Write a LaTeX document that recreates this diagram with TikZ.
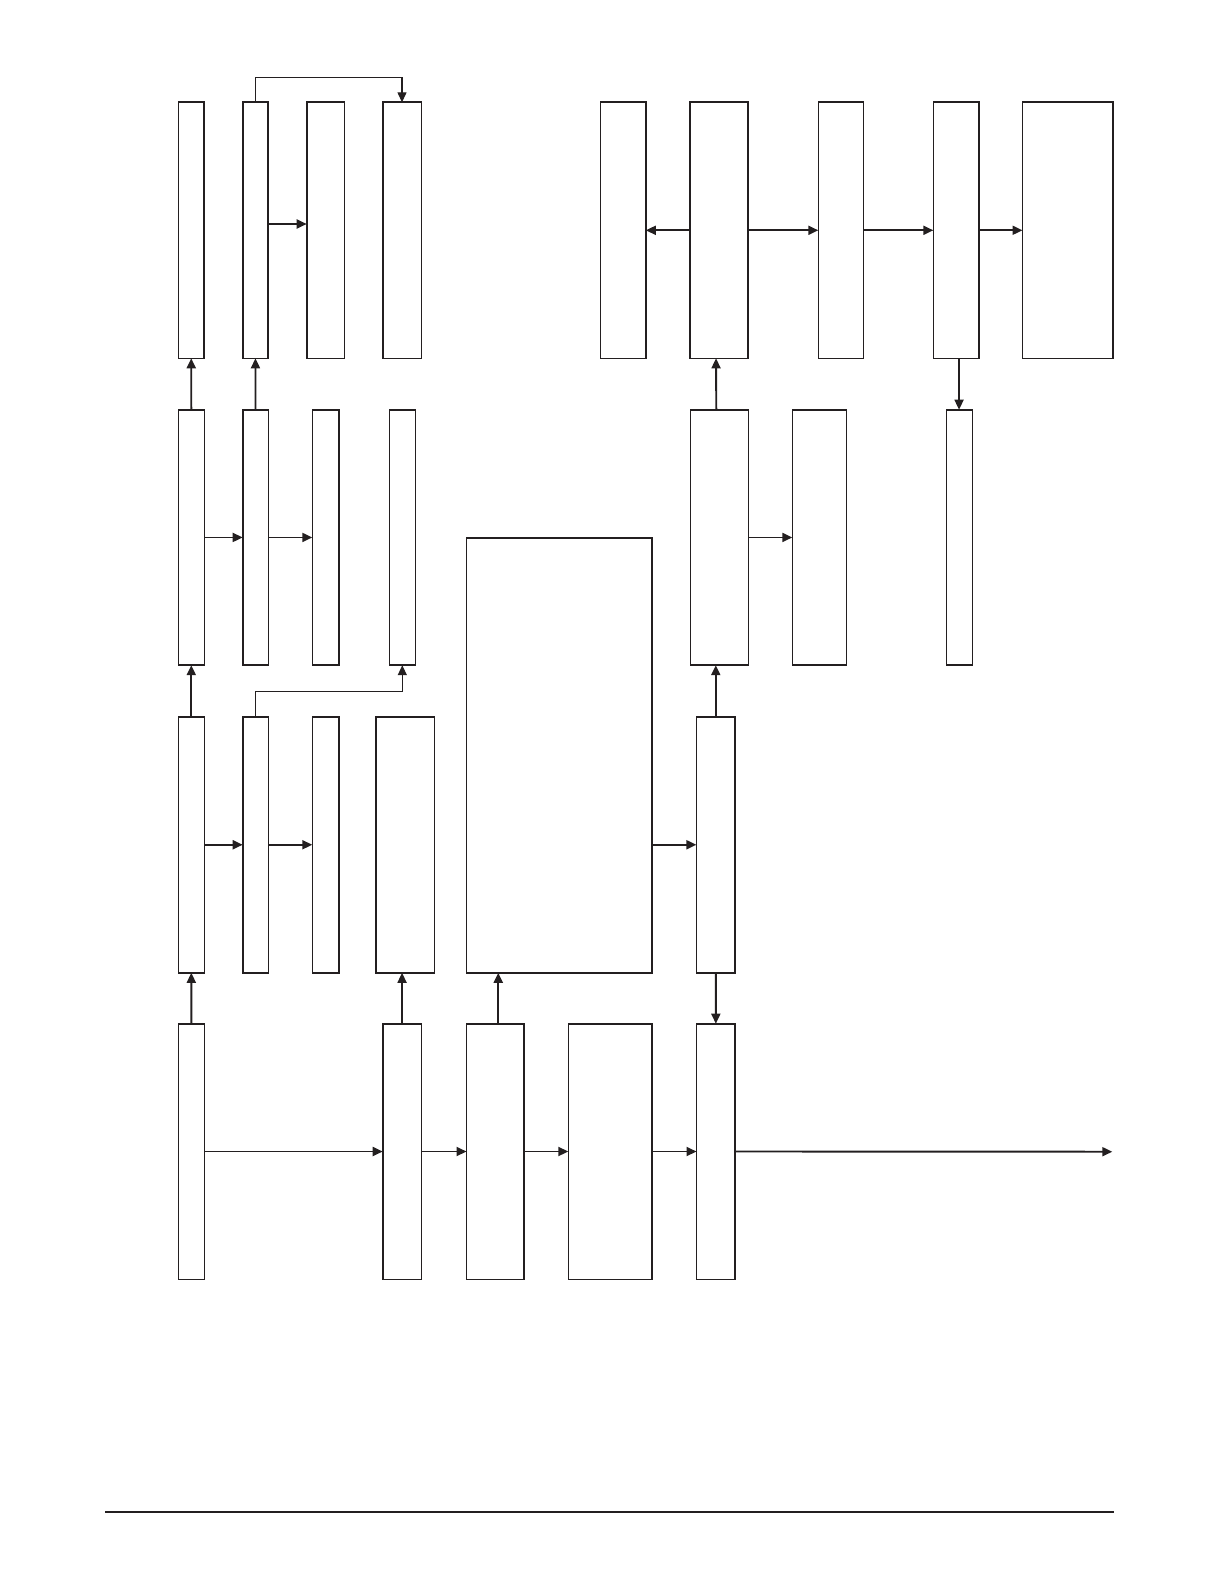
\documentclass[tikz,border=0pt]{standalone}
\usetikzlibrary{arrows.meta}
\definecolor{ink}{RGB}{35,31,32}
\begin{document}
\begin{tikzpicture}[x=1pt,y=-1pt,
  box/.style={draw=ink,line width=1.6pt,fill=white,inner sep=0pt,outer sep=0pt,anchor=north west},
  arr/.style={draw=ink,line width=1.9pt,-{Triangle[length=10pt,width=9pt]}},
  thinarr/.style={draw=ink,line width=1.3pt,-{Triangle[length=10pt,width=9pt]}},
  rulebar/.style={draw=ink,line width=2.3pt}]
\useasboundingbox (0,0) rectangle (1224,1584);
% helper: \bx{name}{x1}{y1}{x2}{y2}
\newcommand{\bx}[5]{\node[box,minimum width={(#4-#2)*1pt},minimum height={(#5-#3)*1pt}] (#1) at (#2,#3) {};}
% Row 1
\bx{A1}{178.3}{102.3}{204.2}{358.3}
\bx{A2}{242.7}{102.3}{268.2}{358.3}
\bx{A3}{306.7}{102.3}{344.3}{358.3}
\bx{A4}{382.7}{102.3}{421.3}{358.3}
\bx{B1}{600.3}{102.3}{645.8}{358.3}
\bx{B2}{690.0}{102.3}{748.0}{358.3}
\bx{B3}{818.3}{102.3}{863.4}{358.3}
\bx{B4}{933.3}{102.3}{978.8}{358.3}
\bx{B5}{1022.5}{102.3}{1112.7}{358.3}
% Row 2
\bx{C1}{178.3}{409.7}{204.3}{665.2}
\bx{C2}{242.7}{409.7}{268.3}{665.2}
\bx{C3}{312.3}{409.7}{338.7}{665.2}
\bx{C4}{389.3}{409.7}{415.3}{665.2}
\bx{R1}{690.3}{409.7}{748.3}{665.2}
\bx{R2}{792.3}{409.7}{846.3}{665.2}
\bx{R3}{946.3}{409.7}{972.3}{665.2}
% Row 3
\bx{D1}{178.3}{716.7}{204.3}{972.8}
\bx{D2}{242.7}{716.7}{268.3}{972.8}
\bx{D3}{312.3}{716.7}{338.7}{972.8}
\bx{D4}{376.2}{716.7}{434.4}{972.8}
\bx{E}{466.3}{537.7}{652.0}{972.8}
\bx{D5}{696.4}{716.7}{735.2}{972.8}
% Row 4
\bx{F1}{178.4}{1023.7}{204.4}{1279.3}
\bx{F2}{382.7}{1023.7}{421.4}{1279.3}
\bx{F3}{466.5}{1023.7}{524.0}{1279.3}
\bx{F4}{568.3}{1023.7}{651.8}{1279.3}
\bx{F5}{696.5}{1023.7}{735.2}{1279.3}
\coordinate (out) at (1112.3,1151.7);
\coordinate (rl) at (105,1511.7);
\coordinate (rr) at (1113.5,1511.7);
% Row 1 connectors
\draw[arr] ([yshift=6.3pt]A2.east) -- ([yshift=6.3pt]A2.east -| A3.west);
\draw[thinarr] (A2.north) -- ++(0,-25) -| (A4.north);
\draw[arr] (B2.west) -- (B1.east);
\draw[arr] (B2.east) -- (B3.west);
\draw[arr] (B3.east) -- (B4.west);
\draw[arr] (B4.east) -- (B5.west);
% Row 2 connectors
\draw[arr] (C1.east) -- (C2.west);
\draw[arr] (C2.east) -- (C3.west);
\draw[arr] (R1.east) -- (R2.west);
\draw[arr] (C1.north) -- (A1.south);
\draw[arr] (C2.north) -- (A2.south);
\draw[arr] ([xshift=-3pt]R1.north) -- ([xshift=-3pt]B2.south);
\draw[arr] ([xshift=3pt]B4.south) -- ([xshift=3pt]B4.south |- R3.north);
% Row 3 connectors
\draw[arr] (D1.east) -- (D2.west);
\draw[arr] (D2.east) -- (D3.west);
\draw[arr] (D1.north) -- (C1.south);
\draw[thinarr] (D2.north) -- ++(0,-25.4) -| (C4.south);
\draw[arr] (E.east |- D5.west) -- (D5.west);
\draw[arr] (D5.north) -- (D5.north |- R1.south);
\draw[arr] (D5.south) -- (F5.north);
% Row 4 connectors
\draw[arr] (F1.north) -- (D1.south);
\draw[arr] (F2.north) -- (F2.north |- D4.south);
\draw[arr] ([xshift=3pt]F3.north) -- ([xshift=3pt]F3.north |- E.south);
\draw[arr] (F1.east) -- (F2.west);
\draw[arr] (F2.east) -- (F3.west);
\draw[arr] (F3.east) -- (F4.west);
\draw[arr] (F4.east) -- (F5.west);
\draw[arr] (F5.east) -- (out);
% bottom rule
\draw[rulebar] (rl) -- (rr);
\end{tikzpicture}
\end{document}
